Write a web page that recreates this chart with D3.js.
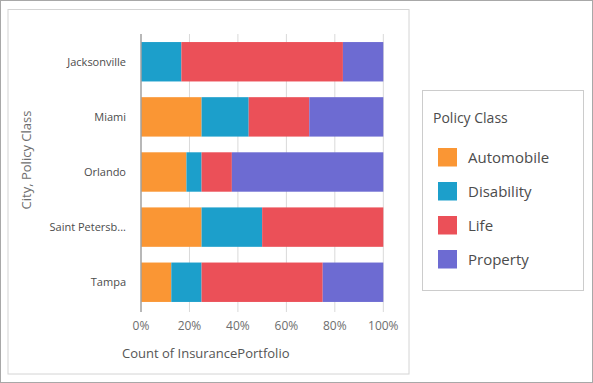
<!DOCTYPE html>
<html><head><meta charset="utf-8">
<script src="https://cdn.jsdelivr.net/npm/d3@7"></script>
<style>
html,body{margin:0;padding:0;background:#fff;}
svg{display:block;font-family:"Open Sans","Noto Sans",sans-serif;}
</style></head>
<body>
<script>
const cities = ["Jacksonville","Miami","Orlando","Saint Petersburg","Tampa"];
const cityLabels = ["Jacksonville","Miami","Orlando","Saint Petersb...","Tampa"];
const classes = ["Automobile","Disability","Life","Property"];
const colors = ["#FA9634","#1C9FCB","#EB5058","#6D6BD2"];
// counts per city, order: Automobile, Disability, Life, Property
const automobile = [0, 9, 3, 1, 1];
const disability = [1, 7, 1, 1, 1];
const life       = [4, 9, 2, 2, 4];
const property   = [1, 11, 10, 0, 2];
const xTicks = [0, 0.2, 0.4, 0.6, 0.8, 1];

const W = 593, H = 383;
const svg = d3.select("body").append("svg").attr("width", W).attr("height", H);

// outer frame
svg.append("rect").attr("x",0.5).attr("y",0.5).attr("width",W-1).attr("height",H-1)
  .attr("fill","#fff").attr("stroke","#a8a8a8").attr("stroke-width",1);
// inner panel
svg.append("rect").attr("x",8).attr("y",9.5).attr("width",401).attr("height",364.5)
  .attr("fill","#fff").attr("stroke","#d4d4d4").attr("stroke-width",1);

const rows = cities.map((c,i)=>{
  const vals = [automobile[i], disability[i], life[i], property[i]];
  const tot = d3.sum(vals);
  const o = {city:c};
  classes.forEach((k,j)=>o[k]=vals[j]/tot);
  return o;
});
const stack = d3.stack().keys(classes)(rows);

const x = d3.scaleLinear().domain([0,1]).range([141, 383.3]);
const y = d3.scaleBand().domain(cities).range([34.2, 309.8]).paddingInner(0.285).paddingOuter(0.1425);

// gridlines
svg.append("g").selectAll("line").data(xTicks.slice(1)).join("line")
  .attr("x1",d=>x(d)).attr("x2",d=>x(d)).attr("y1",34).attr("y2",312)
  .attr("stroke","#d9d9d9").attr("stroke-width",1);

// bars
const color = d3.scaleOrdinal().domain(classes).range(colors);
svg.append("g").selectAll("g").data(stack).join("g")
  .attr("fill",d=>color(d.key))
  .selectAll("rect").data(d=>d).join("rect")
  .attr("x",d=>x(d[0])).attr("width",d=>Math.max(0,x(d[1])-x(d[0])))
  .attr("y",d=>y(d.data.city)).attr("height",y.bandwidth());

// zero axis line
svg.append("line").attr("x1",x(0)).attr("x2",x(0)).attr("y1",34).attr("y2",312)
  .attr("stroke","#a0a0a0").attr("stroke-width",1.5);

// x tick labels
const fmt = d3.format(".0%");
svg.append("g").selectAll("text").data(xTicks).join("text")
  .attr("x",d=>x(d)).attr("y",330).attr("text-anchor","middle")
  .attr("font-size",12).attr("fill","#6e6e6e").text(d=>fmt(d));

// y labels
svg.append("g").selectAll("text").data(cities).join("text")
  .attr("x",126).attr("y",d=>y(d)+y.bandwidth()/2+4).attr("text-anchor","end")
  .attr("font-size",11).attr("fill","#4c4c4c").text((d,i)=>cityLabels[i]);

// axis titles
svg.append("text").attr("x",122).attr("y",358).attr("font-size",13).attr("fill","#555")
  .text("Count of InsurancePortfolio");
svg.append("text").attr("transform","translate(31,160) rotate(-90)")
  .attr("text-anchor","middle").attr("font-size",13).attr("fill","#6e6e6e")
  .text("City, Policy Class");

// legend
const lg = svg.append("g");
lg.append("rect").attr("x",422.5).attr("y",90.5).attr("width",161).attr("height",200)
  .attr("fill","#fff").attr("stroke","#cccccc").attr("stroke-width",1);
lg.append("text").attr("x",433).attr("y",123).attr("font-size",14).attr("fill","#4c4c4c").text("Policy Class");
const items = lg.selectAll("g.item").data(classes).join("g").attr("class","item")
  .attr("transform",(d,i)=>`translate(438,${148+i*34})`);
items.append("rect").attr("width",19).attr("height",18.5).attr("fill",d=>color(d));
items.append("text").attr("x",30).attr("y",15).attr("font-size",15).attr("fill","#4c4c4c").text(d=>d);
</script>
</body></html>
